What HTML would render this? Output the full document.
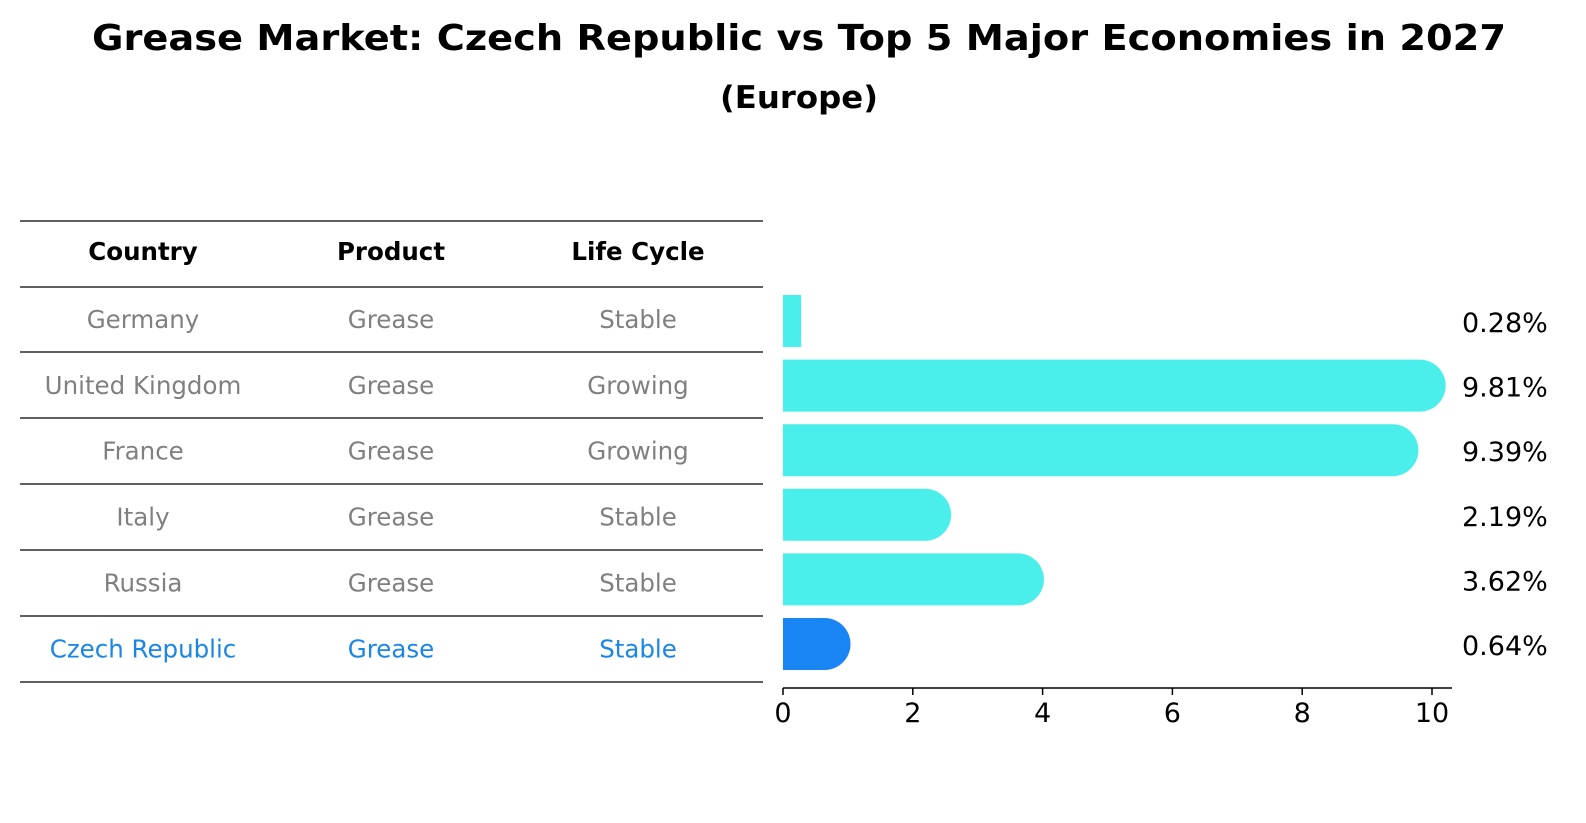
<!DOCTYPE html>
<html><head><meta charset="utf-8"><style>
body{margin:0;background:#fff;font-family:"DejaVu Sans","Liberation Sans",sans-serif;overflow:hidden;}
</style></head><body>
<svg width="1586" height="823" xmlns="http://www.w3.org/2000/svg" font-family="DejaVu Sans, Liberation Sans, sans-serif" style="display:block">
<text x="92" y="50" font-size="36" font-weight="bold" textLength="1414" lengthAdjust="spacingAndGlyphs">Grease Market: Czech Republic vs Top 5 Major Economies in 2027</text>
<text x="720" y="108" font-size="31" font-weight="bold" textLength="158" lengthAdjust="spacingAndGlyphs">(Europe)</text>
<g id="table"></g>
<g id="bars"></g>
<g id="axis"></g>
</svg>
<script>
const countries=["Germany","United Kingdom","France","Italy","Russia","Czech Republic"];
const products=["Grease","Grease","Grease","Grease","Grease","Grease"];
const lifeCycles=["Stable","Growing","Growing","Stable","Stable","Stable"];
const values=[0.28,9.81,9.39,2.19,3.62,0.64];
const valueLabels=["0.28%","9.81%","9.39%","2.19%","3.62%","0.64%"];
const ticks=[0,2,4,6,8,10];

const NS="http://www.w3.org/2000/svg";
function mk(tag,attrs,parent,txt){const e=document.createElementNS(NS,tag);for(const k in attrs)e.setAttribute(k,attrs[k]);if(txt!==undefined)e.textContent=txt;parent.appendChild(e);return e;}
const x=v=>783+v*64.9;
const rowY=i=>321+i*64.6;
const table=document.getElementById('table');
const lineYs=[221,287,352,418,484,550,616,682];
lineYs.forEach(y=>{const l=mk('line',{x1:20,x2:763,y1:y,y2:y,stroke:'#000','stroke-width':1.2},table);

});
const colX=[143,391,638];
["Country","Product","Life Cycle"].forEach((h,j)=>{const t=mk('text',{x:colX[j],y:260,'text-anchor':'middle','font-size':24.5,'font-weight':'bold'},table,h);

});
countries.forEach((c,i)=>{
  const col=i===countries.length-1?'#1a86e8':'#808080';
  const yy=254+(i+1)*65.9+8;
  [c,products[i],lifeCycles[i]].forEach((v,j)=>{
    const t=mk('text',{x:colX[j],y:yy,'text-anchor':'middle','font-size':24.5,fill:col},table,v);
    
    
  });
});
const bars=document.getElementById('bars');
const h=52,r=26;
values.forEach((v,i)=>{
  const cy=rowY(i),top=cy-h/2,x0=x(0),x1=x(v);
  const col=i===values.length-1?'#1a86f5':'#4aeeea';
  let d;
  if(x1-x0<r){d=`M${x0},${top}H${x1}V${top+h}H${x0}Z`;}
  else d=`M${x0},${top}H${x1}A${r},${r} 0 0 1 ${x1},${top+h}H${x0}Z`;
  const p=mk('path',{d:d,fill:col},bars);
  
  
  const t=mk('text',{x:1462,y:cy+11,'font-size':27},bars,valueLabels[i]);
  
  
});
const axis=document.getElementById('axis');
mk('line',{x1:783,x2:1452,y1:688,y2:688,stroke:'#000','stroke-width':1.5},axis);
ticks.forEach(tv=>{
  mk('line',{x1:x(tv),x2:x(tv),y1:688,y2:695,stroke:'#000','stroke-width':1.5},axis);
  const t=mk('text',{x:x(tv),y:722,'text-anchor':'middle','font-size':27},axis,tv);
  
  
});
</script>
</body></html>
